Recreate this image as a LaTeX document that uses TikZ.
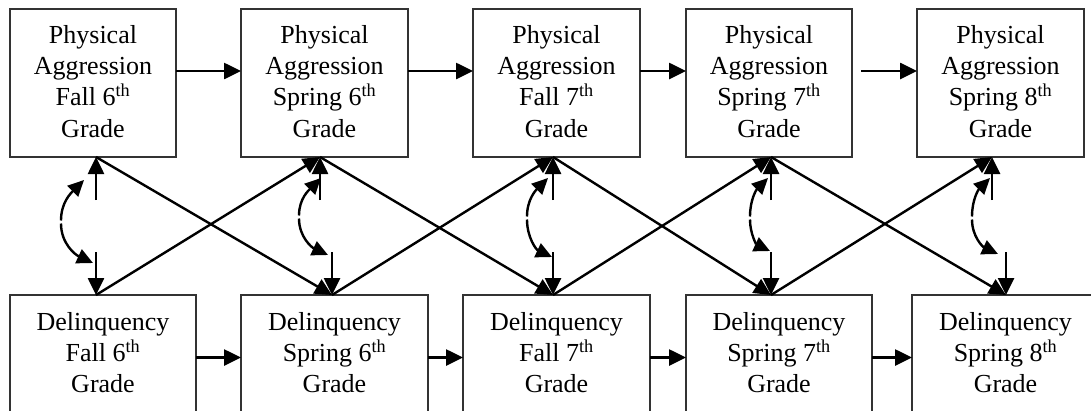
\documentclass[tikz,border=0pt]{standalone}
\usepackage{fontspec}
\setmainfont{Liberation Serif}
\usetikzlibrary{arrows.meta}
\begin{document}
\begin{tikzpicture}[x=1pt,y=-1pt,
  boxt/.style={draw=black!80, line width=1.4pt, inner sep=0pt, outer sep=0pt, minimum height=148pt},
  boxb/.style={draw=black!80, line width=1.4pt, inner sep=0pt, outer sep=0pt, minimum height=125pt},
  txt/.style={align=center, inner sep=0pt, outer sep=0pt, anchor=north, font=\fontsize{26}{31.3}\selectfont},
  arr/.style={line width=2.6pt, -{Triangle[length=17pt,width=16pt]}},
  diag/.style={line width=2.4pt, -{Triangle[length=17pt,width=16pt]}},
  cov/.style={line width=2.4pt, -{Triangle[length=16pt,width=15pt]}}
]
\useasboundingbox (0,0) rectangle (1091,410);
\fill[white] (0,0) rectangle (1091,410);
\clip (0,0) rectangle (1091,410);

% top boxes
\node[boxt, minimum width=166pt] (p1) at (93,83) {};
\node[boxt, minimum width=167pt] (p2) at (324.5,83) {};
\node[boxt, minimum width=167pt] (p3) at (556.5,83) {};
\node[boxt, minimum width=166pt] (p4) at (769,83) {};
\node[boxt, minimum width=167pt] (p5) at (1000.5,83) {};
\node[txt] (p1t) at (93,25.3) {Physical\\Aggression\\Fall 6\textsuperscript{th}\\Grade};
\node[txt] (p2t) at (324.5,25.3) {Physical\\Aggression\\Spring 6\textsuperscript{th}\\Grade};
\node[txt] (p3t) at (556.5,25.3) {Physical\\Aggression\\Fall 7\textsuperscript{th}\\Grade};
\node[txt] (p4t) at (769,25.3) {Physical\\Aggression\\Spring 7\textsuperscript{th}\\Grade};
\node[txt] (p5t) at (1000.5,25.3) {Physical\\Aggression\\Spring 8\textsuperscript{th}\\Grade};

% bottom boxes
\node[boxb, minimum width=186pt] (d1) at (103,357.5) {};
\node[boxb, minimum width=187pt] (d2) at (334.5,357.5) {};
\node[boxb, minimum width=187pt] (d3) at (556.5,357.5) {};
\node[boxb, minimum width=186pt] (d4) at (779,357.5) {};
\node[boxb, minimum width=187pt] (d5) at (1005.5,357.5) {};
\node[txt] (d1t) at (103,312.3) {Delinquency\\Fall 6\textsuperscript{th}\\Grade};
\node[txt] (d2t) at (334.5,312.3) {Delinquency\\Spring 6\textsuperscript{th}\\Grade};
\node[txt] (d3t) at (556.5,312.3) {Delinquency\\Fall 7\textsuperscript{th}\\Grade};
\node[txt] (d4t) at (779,312.3) {Delinquency\\Spring 7\textsuperscript{th}\\Grade};
\node[txt] (d5t) at (1005.5,312.3) {Delinquency\\Spring 8\textsuperscript{th}\\Grade};

% horizontal paths
\draw[arr] ([yshift=12pt]p1.east) -- ([yshift=12pt]p2.west);
\draw[arr] ([yshift=12pt]p2.east) -- ([yshift=12pt]p3.west);
\draw[arr] ([yshift=12pt]p3.east) -- ([yshift=12pt]p4.west);
\draw[arr, shorten <=9pt] ([yshift=12pt]p4.east) -- ([yshift=12pt]p5.west);
\draw[arr] (d1.east) -- (d2.west);
\draw[arr] (d2.east) -- (d3.west);
\draw[arr] (d3.east) -- (d4.west);
\draw[arr] (d4.east) -- (d5.west);

% anchor points
\coordinate (pa1) at ([xshift=3pt]p1.south);
\coordinate (pa2) at ([xshift=-4.5pt]p2.south);
\coordinate (pa3) at ([xshift=-3.5pt]p3.south);
\coordinate (pa4) at ([xshift=2pt]p4.south);
\coordinate (pa5) at ([xshift=-8.5pt]p5.south);
\coordinate (da1) at ([xshift=-7pt]d1.north);
\coordinate (da2) at ([xshift=-2.5pt]d2.north);
\coordinate (da3) at ([xshift=-3.5pt]d3.north);
\coordinate (da4) at ([xshift=-8pt]d4.north);
\coordinate (da5) at ([xshift=0.5pt]d5.north);

% cross-lagged paths
\draw[diag] (pa1) -- (da2);
\draw[diag] (da1) -- (pa2);
\draw[diag] (pa2) -- (da3);
\draw[diag] (da2) -- (pa3);
\draw[diag] (pa3) -- (da4);
\draw[diag] (da3) -- (pa4);
\draw[diag] (pa4) -- (da5);
\draw[diag] (da4) -- (pa5);

% residual arrows
\foreach \i in {1,...,5}{
  \coordinate (pu\i) at ([yshift=-43pt]pa\i);
  \coordinate (db\i) at ([yshift=43pt]da\i);
  \draw[arr] (pu\i) -- (pa\i);
  \draw[arr] (db\i) -- (da\i);
}

% residual covariances
\coordinate (ct1) at (84,180);  \coordinate (cm1) at (61,222);  \coordinate (cb1) at (93,263);
\coordinate (ct2) at (321,178); \coordinate (cm2) at (299,217); \coordinate (cb2) at (328,255);
\coordinate (ct3) at (548,178); \coordinate (cm3) at (527,218); \coordinate (cb3) at (552,257);
\coordinate (ct4) at (768,178); \coordinate (cm4) at (750,218); \coordinate (cb4) at (770,251);
\coordinate (ct5) at (990,178); \coordinate (cm5) at (972,218); \coordinate (cb5) at (998,254);
\foreach \i in {1,...,5}{
  \draw[cov] ([yshift=1.5pt]cm\i) to[out=90,in=225] (ct\i);
  \draw[cov] ([yshift=-1.5pt]cm\i) to[out=-90,in=155] (cb\i);
}
\end{tikzpicture}
\end{document}
